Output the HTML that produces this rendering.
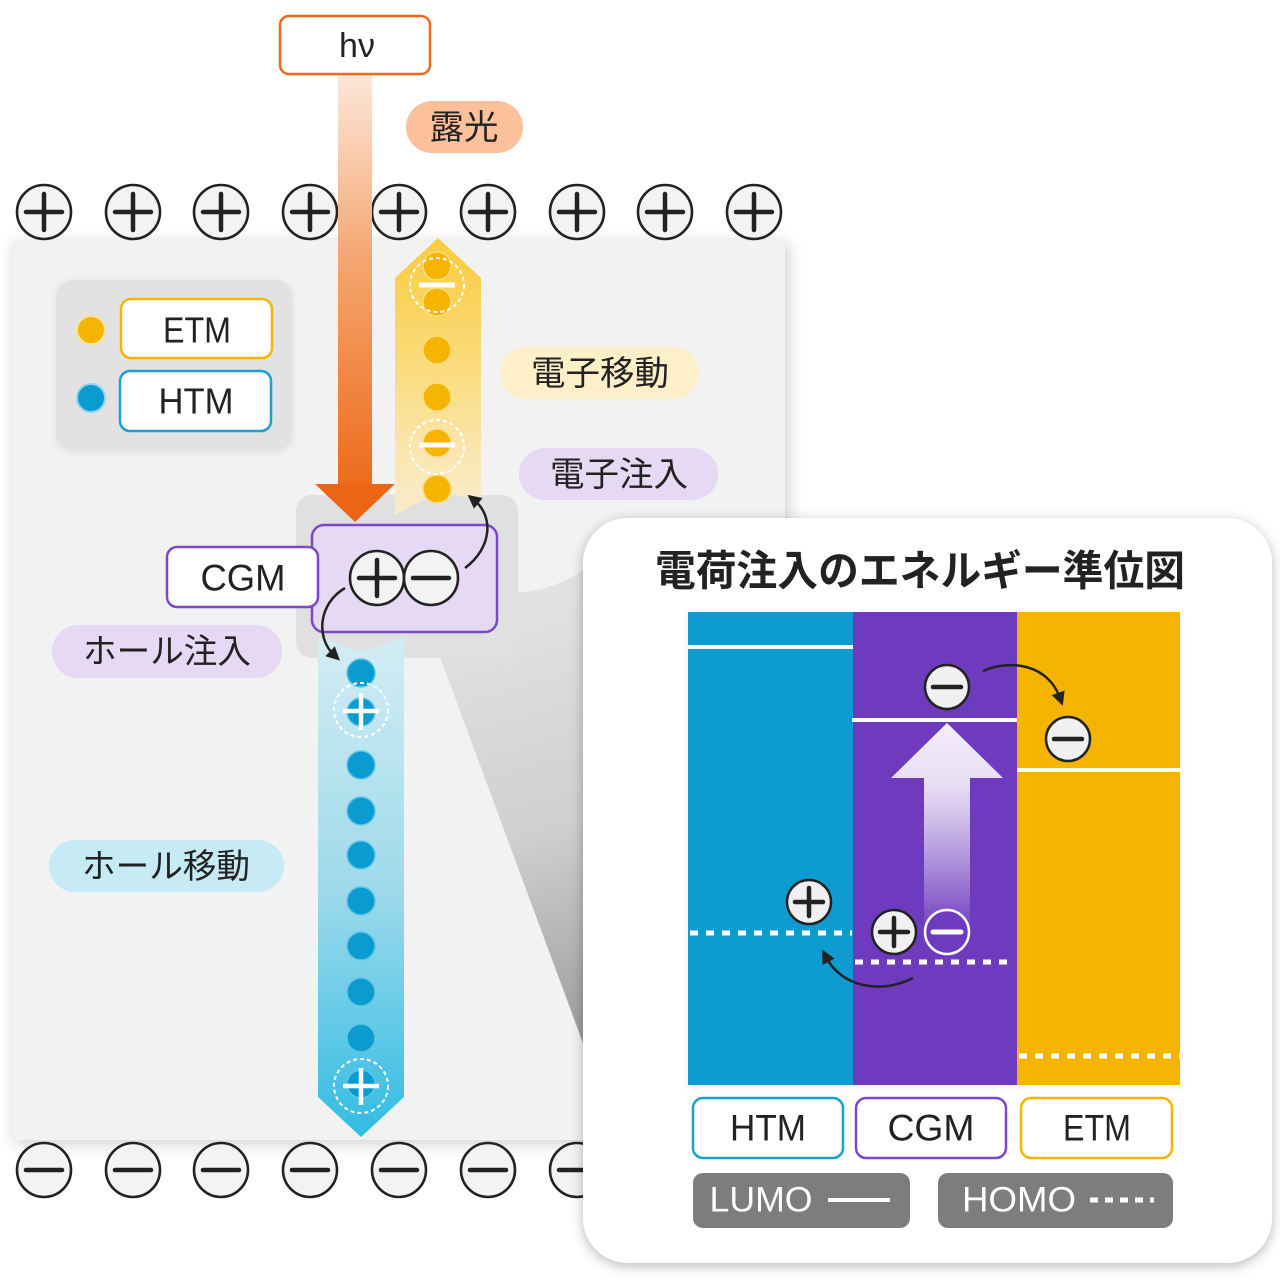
<!DOCTYPE html>
<html><head><meta charset="utf-8">
<style>html,body{margin:0;padding:0;background:#fff}svg{display:block}
text{font-family:"Liberation Sans","Noto Sans CJK JP",sans-serif;fill:#222}</style></head>
<body>
<svg width="1280" height="1284" viewBox="0 0 1280 1284" xmlns="http://www.w3.org/2000/svg">
<defs>
 <filter id="sh" x="-10%" y="-10%" width="120%" height="120%"><feDropShadow dx="3" dy="3" stdDeviation="8" flood-color="#000" flood-opacity="0.2"/></filter>
 <filter id="sh2" x="-10%" y="-10%" width="120%" height="120%"><feDropShadow dx="0" dy="3" stdDeviation="6" flood-color="#000" flood-opacity="0.28"/></filter>
 <filter id="sh3" x="-10%" y="-10%" width="120%" height="120%"><feDropShadow dx="0" dy="2" stdDeviation="4" flood-color="#000" flood-opacity="0.08"/></filter>
 <linearGradient id="beam" gradientUnits="userSpaceOnUse" x1="0" y1="74" x2="0" y2="486"><stop offset="0" stop-color="#fde7da"/><stop offset="0.45" stop-color="#f4a670"/><stop offset="1" stop-color="#ee6b1c"/></linearGradient>
 <linearGradient id="yel" gradientUnits="userSpaceOnUse" x1="0" y1="238" x2="0" y2="515"><stop offset="0" stop-color="#f9cb3e"/><stop offset="0.45" stop-color="#fadb7a"/><stop offset="1" stop-color="#fbeccb" stop-opacity="0.9"/></linearGradient>
 <linearGradient id="blu" gradientUnits="userSpaceOnUse" x1="0" y1="637" x2="0" y2="1137"><stop offset="0" stop-color="#d3edf4"/><stop offset="0.5" stop-color="#9fdaeb"/><stop offset="1" stop-color="#31bce2"/></linearGradient>
 <linearGradient id="wedge" gradientUnits="userSpaceOnUse" x1="470" y1="620" x2="595" y2="1050"><stop offset="0" stop-color="#e2e2e2"/><stop offset="0.5" stop-color="#cfcfcf"/><stop offset="1" stop-color="#9a9a9a"/></linearGradient>
 <linearGradient id="up" gradientUnits="userSpaceOnUse" x1="0" y1="723" x2="0" y2="925"><stop offset="0" stop-color="#f2ecfa"/><stop offset="0.3" stop-color="#e8dff5"/><stop offset="1" stop-color="#ffffff" stop-opacity="0.05"/></linearGradient>
 <marker id="ah" viewBox="0 0 10 10" refX="4" refY="5" markerWidth="5.5" markerHeight="5.5" orient="auto"><path d="M0,0 L10,5 L0,10 z" fill="#222"/></marker>
 <g id="pc"><circle r="27" fill="#f3f3f3" stroke="#222" stroke-width="2.6"/><path d="M-18 0H18M0-18V18" stroke="#222" stroke-width="4.5" stroke-linecap="round"/></g>
 <g id="mc"><circle r="27" fill="#f3f3f3" stroke="#222" stroke-width="2.6"/><path d="M-18 0H18" stroke="#222" stroke-width="4.5" stroke-linecap="round"/></g>
 <g id="ps"><circle r="22" fill="#f0f0f0" stroke="#222" stroke-width="2.5"/><path d="M-14 0H14M0-14V14" stroke="#222" stroke-width="4.5" stroke-linecap="round"/></g>
 <g id="ms"><circle r="22" fill="#f0f0f0" stroke="#222" stroke-width="2.5"/><path d="M-14 0H14" stroke="#222" stroke-width="4.5" stroke-linecap="round"/></g>
</defs>

<!-- main panel -->
<rect x="12" y="241" width="773" height="899" fill="#f2f2f2" filter="url(#sh)"/>

<!-- wedge -->
<path d="M500 592 Q548 596 590 566 L590 1062 L440 657 L440 592 Z" fill="url(#wedge)"/>

<!-- legend -->
<rect x="56" y="280" width="236" height="170" rx="16" fill="#e2e2e2" filter="url(#sh3)"/>
<circle cx="91" cy="330" r="14" fill="#f5b400" stroke="#fbe29a" stroke-width="2"/>
<circle cx="91" cy="398" r="14" fill="#0a9bd0" stroke="#8fd3ec" stroke-width="2"/>
<rect x="121" y="299" width="151" height="59" rx="10" fill="#fff" stroke="#f5b400" stroke-width="2.5"/>
<text x="197" y="330" text-anchor="middle" dominant-baseline="central" font-size="36" textLength="68" lengthAdjust="spacingAndGlyphs">ETM</text>
<rect x="120" y="371" width="151" height="60" rx="10" fill="#fff" stroke="#1aa0d3" stroke-width="2.5"/>
<text x="196" y="401" text-anchor="middle" dominant-baseline="central" font-size="36" textLength="75" lengthAdjust="spacingAndGlyphs">HTM</text>

<!-- pills -->
<rect x="500" y="347" width="199" height="52" rx="26" fill="#fdf0c9"/>
<text x="600" y="374" text-anchor="middle" dominant-baseline="central" font-size="34" textLength="138" lengthAdjust="spacingAndGlyphs">電子移動</text>
<rect x="519" y="448" width="199" height="52" rx="26" fill="#e6d9f3"/>
<text x="619" y="475" text-anchor="middle" dominant-baseline="central" font-size="34" textLength="138" lengthAdjust="spacingAndGlyphs">電子注入</text>
<rect x="52" y="625" width="230" height="53" rx="26" fill="#e6d9f3"/>
<text x="167" y="652" text-anchor="middle" dominant-baseline="central" font-size="34" textLength="168" lengthAdjust="spacingAndGlyphs">ホール注入</text>
<rect x="49" y="840" width="235" height="52" rx="26" fill="#c6ebf5"/>
<text x="166" y="867" text-anchor="middle" dominant-baseline="central" font-size="34" textLength="168" lengthAdjust="spacingAndGlyphs">ホール移動</text>

<!-- gray box -->
<rect x="296" y="495" width="222" height="163" rx="16" fill="#e0e0e0"/>

<!-- yellow arrow -->
<path d="M438 238 L481 278 L481 500 L438 492 L395 515 L395 278 Z" fill="url(#yel)"/>
<g fill="#f5b400" stroke="#fbdc7e" stroke-width="1.5">
 <circle cx="437" cy="266" r="14"/><circle cx="437" cy="302" r="14"/><circle cx="437" cy="350" r="14"/>
 <circle cx="437" cy="397" r="14"/><circle cx="437" cy="443" r="14"/><circle cx="437" cy="489" r="14"/>
</g>
<g fill="none" stroke="#fff" stroke-width="2" stroke-dasharray="4 3">
 <circle cx="437" cy="285" r="27"/><circle cx="437" cy="447" r="27"/>
</g>
<path d="M419 285H455M419 445H455" stroke="#fff" stroke-width="5"/>

<!-- charge rows -->
<g>
 <use href="#pc" x="44" y="212"/><use href="#pc" x="133" y="212"/><use href="#pc" x="221" y="212"/>
 <use href="#pc" x="310" y="212"/><use href="#pc" x="399" y="212"/><use href="#pc" x="488" y="212"/>
 <use href="#pc" x="577" y="212"/><use href="#pc" x="665" y="212"/><use href="#pc" x="754" y="212"/>
</g>
<g>
 <use href="#mc" x="44" y="1170"/><use href="#mc" x="133" y="1170"/><use href="#mc" x="221" y="1170"/>
 <use href="#mc" x="310" y="1170"/><use href="#mc" x="399" y="1170"/><use href="#mc" x="488" y="1170"/>
 <use href="#mc" x="577" y="1170"/>
</g>

<!-- beam -->
<rect x="338" y="74" width="34" height="412" fill="url(#beam)"/>
<path d="M315 484 L395 484 L355 522 Z" fill="#ec6515"/>

<!-- CGM box -->
<rect x="312" y="525" width="185" height="107" rx="12" fill="#e5d9f3" stroke="#7a48c8" stroke-width="2.5"/>
<rect x="167" y="547" width="151" height="60" rx="10" fill="#fff" stroke="#7a48c8" stroke-width="2.5"/>
<text x="243" y="578" text-anchor="middle" dominant-baseline="central" font-size="37" textLength="85" lengthAdjust="spacingAndGlyphs">CGM</text>
<use href="#pc" x="377" y="578"/>
<use href="#mc" x="431" y="578"/>

<!-- blue arrow -->
<path d="M318 637 L361 652 L404 637 L404 1097 L361 1137 L318 1097 Z" fill="url(#blu)"/>
<g fill="#0a9bd0" stroke="#5fc5e6" stroke-width="1.5">
 <circle cx="361" cy="673" r="14"/><circle cx="361" cy="712" r="14"/><circle cx="361" cy="765" r="14"/>
 <circle cx="361" cy="811" r="14"/><circle cx="361" cy="855" r="14"/><circle cx="361" cy="901" r="14"/>
 <circle cx="361" cy="946" r="14"/><circle cx="361" cy="992" r="14"/><circle cx="361" cy="1038" r="14"/>
 <circle cx="361" cy="1084" r="14"/>
</g>
<g fill="none" stroke="#fff" stroke-width="2" stroke-dasharray="4 3">
 <circle cx="361" cy="710" r="27"/><circle cx="361" cy="1086" r="27"/>
</g>
<path d="M343 711H379M361 693V730M343 1086H379M361 1068V1105" stroke="#fff" stroke-width="4.5"/>

<!-- curved arrows left -->
<path d="M465 568 C492 548 494 516 474 500" fill="none" stroke="#222" stroke-width="2.5" marker-end="url(#ah)"/>
<path d="M345 588 C318 604 316 638 334 655" fill="none" stroke="#222" stroke-width="2.5" marker-end="url(#ah)"/>

<!-- hv box -->
<rect x="280" y="16" width="150" height="58" rx="9" fill="#fff" stroke="#ee6a1a" stroke-width="2.5"/>
<text x="357" y="46" text-anchor="middle" dominant-baseline="central" font-size="34">hν</text>
<rect x="406" y="101" width="117" height="52" rx="26" fill="#fcc09b"/>
<text x="464" y="128" text-anchor="middle" dominant-baseline="central" font-size="34" textLength="69" lengthAdjust="spacingAndGlyphs">露光</text>

<!-- right panel -->
<rect x="583" y="518" width="689" height="745" rx="45" fill="#fff" filter="url(#sh2)"/>
<text x="920" y="571" text-anchor="middle" dominant-baseline="central" font-size="42" font-weight="bold" textLength="530" lengthAdjust="spacingAndGlyphs">電荷注入のエネルギー準位図</text>

<g filter="url(#sh3)">
 <rect x="688" y="612" width="165" height="473" fill="#0a9bd0"/>
 <rect x="853" y="612" width="164" height="473" fill="#6e3bbe"/>
 <rect x="1017" y="612" width="163" height="473" fill="#f5b400"/>
</g>
<path d="M688 647H853M852 720H1017M1017 770H1181" stroke="#fff" stroke-width="4"/>
<path d="M690 933H852M855 962H1015M1019 1056H1180" stroke="#fff" stroke-width="5" stroke-dasharray="8 8"/>
<path d="M947 723 L1003 778 L970 778 L970 925 L924 925 L924 778 L891 778 Z" fill="url(#up)"/>
<use href="#ms" x="947" y="687"/>
<use href="#ms" x="1068" y="739"/>
<use href="#ps" x="809" y="902"/>
<use href="#ps" x="894" y="932"/>
<circle cx="947" cy="932" r="22" fill="#6e3bbe" stroke="#fff" stroke-width="2.5"/>
<path d="M933 932H961" stroke="#fff" stroke-width="5" stroke-linecap="round"/>
<path d="M983 671 C1010 659 1048 664 1060 698" fill="none" stroke="#222" stroke-width="2.5" marker-end="url(#ah)"/>
<path d="M913 978 C882 994 842 988 826 957" fill="none" stroke="#222" stroke-width="2.5" marker-end="url(#ah)"/>

<!-- labels -->
<rect x="693" y="1098" width="150" height="60" rx="10" fill="#fff" stroke="#1aa0d3" stroke-width="2.5"/>
<text x="768" y="1128" text-anchor="middle" dominant-baseline="central" font-size="37" textLength="76" lengthAdjust="spacingAndGlyphs">HTM</text>
<rect x="856" y="1098" width="150" height="60" rx="10" fill="#fff" stroke="#7a48c8" stroke-width="2.5"/>
<text x="931" y="1128" text-anchor="middle" dominant-baseline="central" font-size="37" textLength="87" lengthAdjust="spacingAndGlyphs">CGM</text>
<rect x="1021" y="1098" width="151" height="60" rx="10" fill="#fff" stroke="#f5b400" stroke-width="2.5"/>
<text x="1097" y="1128" text-anchor="middle" dominant-baseline="central" font-size="37" textLength="68" lengthAdjust="spacingAndGlyphs">ETM</text>

<rect x="693" y="1173" width="217" height="55" rx="10" fill="#7d7d7d"/>
<text x="761" y="1200" text-anchor="middle" dominant-baseline="central" font-size="35" textLength="103" lengthAdjust="spacingAndGlyphs" style="fill:#fff">LUMO</text>
<path d="M828 1200H890" stroke="#fff" stroke-width="4"/>
<rect x="938" y="1173" width="235" height="55" rx="10" fill="#7d7d7d"/>
<text x="1019" y="1200" text-anchor="middle" dominant-baseline="central" font-size="35" textLength="114" lengthAdjust="spacingAndGlyphs" style="fill:#fff">HOMO</text>
<path d="M1090 1200H1154" stroke="#fff" stroke-width="5" stroke-dasharray="8 7"/>
</svg>
</body></html>
